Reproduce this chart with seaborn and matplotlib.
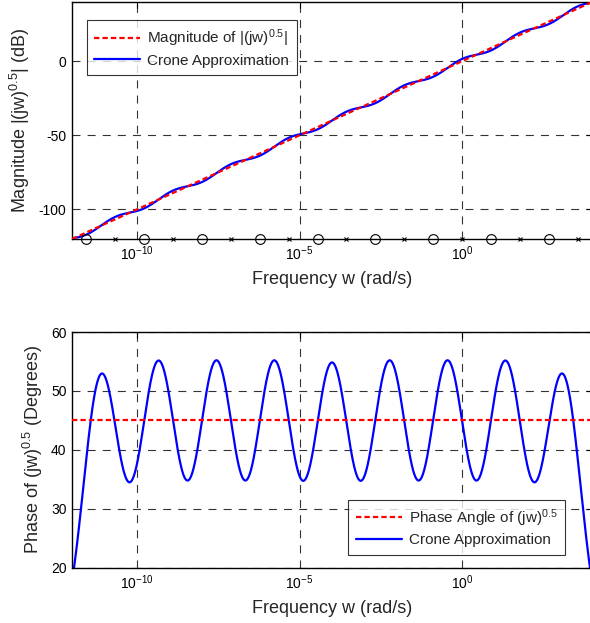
import numpy as np
import pandas as pd
import matplotlib
matplotlib.use("Agg")
import matplotlib.pyplot as plt
import seaborn as sns

sns.set_theme(style="white")
plt.rcParams["font.family"] = ["Liberation Sans", "DejaVu Sans"]
plt.rcParams["mathtext.fontset"] = "custom"
plt.rcParams["mathtext.rm"] = "Liberation Sans"
plt.rcParams["mathtext.it"] = "Liberation Sans:italic"
plt.rcParams["mathtext.default"] = "regular"
plt.rcParams["axes.unicode_minus"] = False

# Crone (Oustaloup) approximation of s^0.5 : zeros / poles in rad/s (log10) and static gain
zeros_log10 = [-11.56, -9.78, -8.00, -6.22, -4.44, -2.67, -0.89, 0.89, 2.67]
poles_log10 = [-10.67, -8.89, -7.11, -5.33, -3.56, -1.78, 0.00, 1.78, 3.56]
gain = 100.0

# ideal fractional-order reference lines
ideal_freq = [1e-12, 1e4]
ideal_mag_db = [-120.0, 40.0]
ideal_phase_deg = [45.0, 45.0]

x_ticks = [1e-10, 1e-5, 1e0]
mag_ticks = [-100, -50, 0]
phase_ticks = [20, 30, 40, 50, 60]

# frequency response of the rational approximation
w = np.logspace(-12, 4, 2000)
zk = 10.0 ** np.array(zeros_log10)
pk = 10.0 ** np.array(poles_log10)
s = 1j * w[:, None]
H = gain * np.prod((s + zk) / (s + pk), axis=1)
resp = pd.DataFrame({"w": w,
                     "mag": 20 * np.log10(np.abs(H)),
                     "phase": np.degrees(np.angle(H))})
ideal = pd.DataFrame({"w": ideal_freq, "mag": ideal_mag_db, "phase": ideal_phase_deg})

fig = plt.figure(figsize=(5.9, 6.23), dpi=100)
ax1 = fig.add_axes([72 / 590, 1 - 239 / 623, 520 / 590, 237 / 623])
ax2 = fig.add_axes([72 / 590, 1 - 567.7 / 623, 520 / 590, 235.7 / 623])

red = "#ff0000"
blue = "#0000ff"
grid_kw = dict(color="#333333", linewidth=0.8, linestyle=(0, (7.2, 6.4)))

for ax in (ax1, ax2):
    ax.set_xscale("log")
    ax.set_xlim(1e-12, 1e4)
    ax.set_xticks(x_ticks)
    ax.xaxis.set_minor_locator(matplotlib.ticker.NullLocator())
    ax.tick_params(direction="in", length=4, width=0.8, top=True, right=True,
                   labelsize=10, pad=4, colors="black")
    for sp in ax.spines.values():
        sp.set_color("black")
        sp.set_linewidth(1.0)
    ax.grid(True, **grid_kw)
    ax.set_facecolor("white")

leg_kw = dict(fontsize=11, frameon=True, fancybox=False, handlelength=3.0,
              handletextpad=0.45, borderpad=0.5, labelspacing=0.3, borderaxespad=0)

# magnitude
sns.lineplot(data=ideal, x="w", y="mag", ax=ax1, color=red, linewidth=1.6,
             linestyle=(0, (2.4, 1.4)), label=r"Magnitude of |(jw)$^{0.5}$|", zorder=3)
sns.lineplot(data=resp, x="w", y="mag", ax=ax1, color=blue, linewidth=1.6,
             label="Crone Approximation", zorder=2)
ax1.plot(zk, np.full(len(zk), -120.0), linestyle="none", marker="o", markersize=7,
         markerfacecolor="none", markeredgecolor="black", markeredgewidth=0.8, clip_on=False, zorder=5)
ax1.plot(pk, np.full(len(pk), -120.0), linestyle="none", marker="x", markersize=3.5,
         color="black", markeredgewidth=0.8, clip_on=False, zorder=5)
ax1.set_ylim(-120, 40)
ax1.set_yticks(mag_ticks)
ax1.set_xlabel("Frequency w (rad/s)", fontsize=13, labelpad=6)
ax1.set_ylabel(r"Magnitude |(jw)$^{0.5}$| (dB)", fontsize=13, labelpad=5)
leg1 = ax1.legend(loc="upper left", bbox_to_anchor=(14.7 / 520, 1 - 18 / 237), **leg_kw)
leg1.get_frame().set_edgecolor("black")
leg1.get_frame().set_linewidth(0.8)

# phase
sns.lineplot(data=ideal, x="w", y="phase", ax=ax2, color=red, linewidth=1.6,
             linestyle=(0, (2.4, 1.4)), label=r"Phase Angle of (jw)$^{0.5}$", zorder=3)
sns.lineplot(data=resp, x="w", y="phase", ax=ax2, color=blue, linewidth=1.6,
             label="Crone Approximation", zorder=2)
ax2.set_ylim(20, 60)
ax2.set_yticks(phase_ticks)
ax2.set_xlabel("Frequency w (rad/s)", fontsize=13, labelpad=6)
ax2.set_ylabel(r"Phase of (jw)$^{0.5}$ (Degrees)", fontsize=13, labelpad=4)
leg2 = ax2.legend(loc="lower right", bbox_to_anchor=(493 / 520, 1 - 223 / 235.7), **leg_kw)
leg2.get_frame().set_edgecolor("black")
leg2.get_frame().set_linewidth(0.8)

fig.savefig("out.png", dpi=100, facecolor="white")
